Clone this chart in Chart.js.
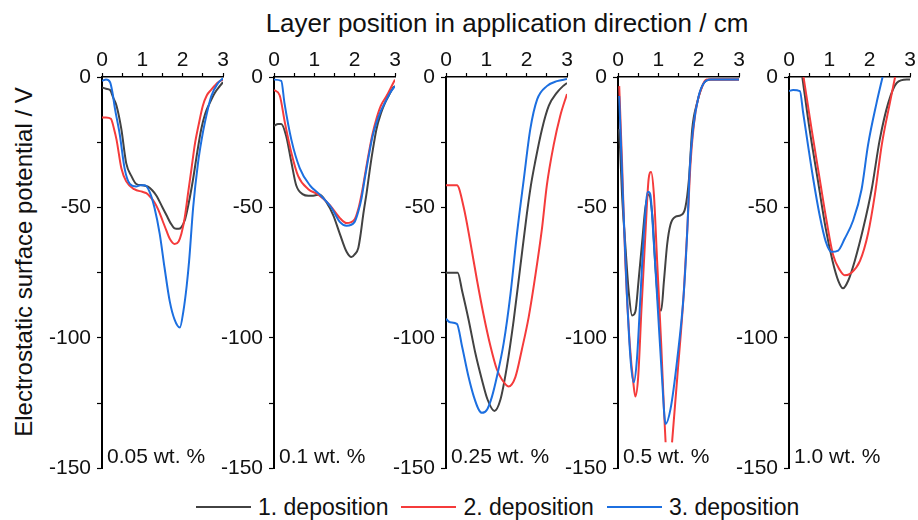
<!DOCTYPE html>
<html>
<head>
<meta charset="utf-8">
<script src="https://cdn.jsdelivr.net/npm/chart.js@4.4.1/dist/chart.umd.min.js"></script>
<style>
  body { margin: 0; background: #fff; font-family: "Liberation Sans", Arial, sans-serif; }
  #wrap { position: relative; width: 918px; height: 520px; overflow: hidden; }
  canvas { position: absolute; top: 30px; }
  #title { position: absolute; left: 207px; width: 600px; top: 8px; text-align: center; font-size: 26px; line-height: 30px; color: #111; }
  #ylabel { position: absolute; left: -176px; top: 247px; width: 400px; height: 30px; line-height: 30px; text-align: center; font-size: 24px; color: #111; transform: rotate(-90deg); }
  #legend { position: absolute; left: 196px; top: 492px; display: flex; font-size: 23px; line-height: 30px; color: #111; }
  .item { display: flex; align-items: center; margin-right: 13px; }
  .swatch { width: 55px; height: 2px; margin-right: 7px; }
</style>
</head>
<body>
<div id="wrap">
  <div id="title">Layer position in application direction / cm</div>
  <div id="ylabel">Electrostatic surface potential / V</div>
  <canvas id="p0" width="188" height="457"></canvas>
  <canvas id="p1" width="188" height="457"></canvas>
  <canvas id="p2" width="188" height="457"></canvas>
  <canvas id="p3" width="188" height="457"></canvas>
  <canvas id="p4" width="188" height="457"></canvas>
  <div id="legend"></div>
</div>
<script>
const panelLabels = ["0.05 wt. %", "0.1 wt. %", "0.25 wt. %", "0.5 wt. %", "1.0 wt. %"];
const seriesNames = ["1. deposition", "2. deposition", "3. deposition"];
const seriesColors = ["#424242", "#f53b3b", "#1c6fe0"];
const panelAxisLeft = [102, 274, 446, 618, 789];

// [position in cm, potential in V]
const dep1_005 = [[0,-4],[0.1,-4.5],[0.2,-5],[0.28,-8],[0.36,-11],[0.48,-20],[0.6,-33],[0.73,-38],[0.85,-41],[1.0,-41.5],[1.14,-42],[1.25,-43.5],[1.35,-45.5],[1.5,-50],[1.6,-53],[1.7,-56],[1.8,-58],[1.9,-58.2],[1.97,-57.5],[2.05,-55],[2.1,-52],[2.18,-46],[2.26,-39],[2.36,-29],[2.46,-20],[2.56,-14],[2.67,-10],[2.8,-6],[2.92,-3.5],[3,-2]];
const dep2_005 = [[0,-15.5],[0.1,-15.5],[0.22,-16],[0.3,-20],[0.36,-24],[0.48,-35],[0.6,-40],[0.8,-43],[1.0,-44],[1.1,-44.5],[1.2,-46],[1.3,-48],[1.4,-51],[1.5,-55],[1.6,-59],[1.68,-62],[1.8,-64],[1.9,-63],[1.97,-60],[2.05,-54],[2.13,-45],[2.22,-35],[2.3,-26],[2.4,-18],[2.5,-11],[2.6,-7],[2.7,-5],[2.88,-2],[3,-1]];
const dep3_005 = [[0,-1.5],[0.1,-1],[0.2,-2],[0.26,-6],[0.32,-12],[0.44,-22],[0.56,-35],[0.69,-41],[0.85,-42],[0.95,-41.5],[1.06,-41.5],[1.18,-44],[1.3,-50],[1.43,-60],[1.55,-73],[1.68,-86],[1.8,-93],[1.93,-96],[2.02,-89.5],[2.1,-80],[2.16,-70.5],[2.26,-50],[2.38,-33],[2.47,-24],[2.55,-17.5],[2.71,-7.3],[2.88,-2.3],[3,-0.5]];

const dep1_01 = [[0,-18.7],[0.1,-18],[0.18,-18],[0.3,-22.5],[0.43,-32.6],[0.55,-41.5],[0.72,-45],[0.85,-45.5],[0.97,-45.5],[1.13,-45],[1.3,-48],[1.47,-53],[1.63,-60],[1.8,-67],[1.92,-69],[2.0,-68],[2.09,-65.5],[2.15,-60],[2.21,-53],[2.3,-44],[2.38,-35],[2.46,-27],[2.54,-20],[2.65,-14],[2.75,-10],[2.85,-7],[2.96,-4],[3,-3.5]];
const dep2_01 = [[0,-5],[0.14,-7],[0.27,-17.5],[0.43,-29],[0.6,-38],[0.85,-43],[1.09,-45],[1.38,-49],[1.63,-54],[1.8,-56],[2.0,-54.5],[2.1,-50],[2.17,-45],[2.25,-38],[2.34,-30],[2.44,-22],[2.54,-16],[2.65,-11],[2.79,-7.3],[2.9,-4],[3,-1]];
const dep3_01 = [[0,-1],[0.18,-1.5],[0.26,-10],[0.43,-24],[0.64,-35],[0.89,-41.5],[1.13,-45],[1.42,-50],[1.63,-55.5],[1.8,-57],[2.0,-55.5],[2.1,-51],[2.17,-46.5],[2.25,-39],[2.34,-31],[2.44,-23],[2.54,-17.5],[2.65,-13],[2.79,-8.6],[2.9,-5.5],[3,-3.5]];

const dep1_025 = [[0,-75],[0.29,-75],[0.4,-82],[0.56,-93],[0.73,-106],[0.89,-116],[1.03,-123.6],[1.2,-128],[1.35,-123.6],[1.51,-111],[1.68,-93],[1.84,-73],[2.0,-53],[2.1,-42],[2.21,-32.6],[2.38,-20],[2.55,-11],[2.75,-6],[2.9,-3.5],[3,-2.3]];
const dep2_025 = [[0,-41.5],[0.27,-41.5],[0.44,-50],[0.6,-63],[0.77,-78],[0.93,-91],[1.1,-103],[1.26,-112],[1.39,-116],[1.55,-118.6],[1.72,-115],[1.88,-104.5],[2.05,-92],[2.21,-76.6],[2.38,-58],[2.5,-41.5],[2.67,-26],[2.83,-15],[3,-6.5]];
const dep3_025 = [[0,-92.7],[0.1,-94],[0.27,-94.6],[0.4,-103.4],[0.56,-115],[0.69,-122.5],[0.81,-127.4],[0.89,-128.7],[1.02,-127.4],[1.14,-122.5],[1.26,-115],[1.43,-102],[1.6,-83],[1.76,-60],[1.93,-39],[2.09,-20],[2.26,-8.6],[2.5,-3.5],[2.75,-1.6],[3,-0.8]];

const dep1_05 = [[0.02,-20],[0.05,-27],[0.1,-45],[0.18,-64],[0.27,-83],[0.35,-91.4],[0.43,-90],[0.51,-78],[0.6,-63],[0.68,-50],[0.76,-45],[0.85,-53],[0.93,-73],[1.01,-88],[1.07,-89.5],[1.14,-78],[1.22,-64],[1.3,-56.6],[1.43,-53.5],[1.55,-53],[1.67,-50],[1.76,-39],[1.84,-20],[1.96,-10],[2.13,-2.3],[2.3,-1],[2.6,-1],[3,-1]];
const dep2_05 = [[0.03,-3.5],[0.1,-32.6],[0.18,-70.5],[0.29,-102],[0.39,-118.6],[0.43,-122.4],[0.5,-115],[0.58,-89.5],[0.68,-60],[0.76,-39],[0.82,-36.4],[0.89,-45],[0.97,-70.5],[1.07,-102],[1.14,-127.4],[1.18,-140],[1.26,null],[1.34,-140],[1.47,-115],[1.63,-83],[1.72,-58],[1.8,-32.6],[1.92,-13.6],[2.09,-3.5],[2.2,-1],[2.6,-1],[3,-1]];
const dep3_05 = [[0.03,-7.3],[0.12,-45],[0.22,-83],[0.31,-108],[0.39,-117],[0.47,-108],[0.56,-83],[0.65,-58],[0.74,-44],[0.8,-45],[0.89,-64],[0.99,-89.5],[1.09,-115],[1.18,-133],[1.3,-127.4],[1.47,-108],[1.63,-83],[1.72,-58],[1.78,-35],[1.86,-20],[2.0,-7.3],[2.13,-2.3],[2.3,-1],[3,-1]];

const dep1_10 = [[0.33,0],[0.51,-20],[0.72,-40],[0.91,-58],[1.08,-70.5],[1.22,-78],[1.34,-81],[1.47,-78],[1.63,-70.5],[1.84,-58],[2.05,-43],[2.25,-24],[2.46,-10],[2.67,-2.3],[2.92,-1],[3,-1]];
const dep2_10 = [[0.36,0],[0.56,-20],[0.76,-39],[0.93,-55],[1.09,-68],[1.26,-74],[1.38,-76],[1.55,-75],[1.76,-70.5],[1.96,-60],[2.13,-45],[2.3,-26],[2.5,-10],[2.63,0]];
const dep3_10 = [[0,-5.4],[0.1,-5],[0.27,-5.4],[0.35,-13.6],[0.47,-26],[0.6,-39],[0.76,-53],[0.91,-63],[1.05,-67],[1.22,-66.5],[1.38,-62],[1.59,-55],[1.8,-43],[1.96,-26],[2.17,-10],[2.32,0]];

const panelSeries = [
    [dep1_005, dep2_005, dep3_005],
    [dep1_01, dep2_01, dep3_01],
    [dep1_025, dep2_025, dep3_025],
    [dep1_05, dep2_05, dep3_05],
    [dep1_10, dep2_10, dep3_10]
];

const xTickLabels = [0, 1, 2, 3];
const yTickLabels = [0, -50, -100, -150];

const FONT = "'Liberation Sans', Arial, sans-serif";

// draws the concentration text in the lower left corner
const panelTextPlugin = {
    id: "panelText",
    afterDraw(chart, args, opts) {
        const { ctx, chartArea } = chart;
        ctx.save();
        ctx.font = "21px " + FONT;
        ctx.fillStyle = "#111";
        ctx.textBaseline = "alphabetic";
        ctx.fillText(opts.text, chartArea.left + 5, chartArea.bottom - 5);
        ctx.restore();
    }
};

function makePanel(i) {
    const canvas = document.getElementById("p" + i);
    canvas.style.left = (panelAxisLeft[i] - 55) + "px";

    const datasets = panelSeries[i].map((points, s) => ({
        label: seriesNames[s],
        data: points.map(p => ({ x: p[0], y: p[1] })),
        borderColor: seriesColors[s],
        borderWidth: 2,
        pointRadius: 0,
        fill: false,
        spanGaps: false,
        cubicInterpolationMode: "monotone",
        order: 3 - s
    }));

    new Chart(canvas, {
        type: "line",
        data: { datasets },
        plugins: [panelTextPlugin],
        options: {
            responsive: false,
            animation: false,
            layout: { padding: { left: 0, right: 12, top: 0, bottom: 14 } },
            plugins: {
                legend: { display: false },
                tooltip: { enabled: false },
                panelText: { text: panelLabels[i] }
            },
            scales: {
                x: {
                    type: "linear",
                    position: "top",
                    min: 0,
                    max: 3,
                    afterFit: scale => { scale.height = 47; },
                    border: { display: true, color: "#000", width: 1.5 },
                    grid: { drawOnChartArea: false, drawTicks: true, tickLength: 4, tickColor: "#000", tickWidth: 1.2 },
                    ticks: {
                        stepSize: 0.5,
                        autoSkip: false,
                        maxRotation: 0,
                        padding: 0,
                        color: "#111",
                        font: { family: FONT, size: 21 },
                        callback: v => xTickLabels.includes(v) ? String(v) : ""
                    }
                },
                y: {
                    type: "linear",
                    min: -150,
                    max: 0,
                    afterFit: scale => { scale.width = 55; },
                    border: { display: true, color: "#000", width: 2 },
                    grid: { drawOnChartArea: false, drawTicks: true, tickLength: 5, tickColor: "#000", tickWidth: 1.2 },
                    ticks: {
                        stepSize: 25,
                        autoSkip: false,
                        padding: 6,
                        color: "#111",
                        font: { family: FONT, size: 21 },
                        callback: v => yTickLabels.includes(v) ? String(v) : ""
                    }
                }
            }
        }
    });
}

for (let i = 0; i < panelSeries.length; i++) {
    makePanel(i);
}

// legend below the panels
const legend = document.getElementById("legend");
seriesNames.forEach((name, s) => {
    const item = document.createElement("div");
    item.className = "item";
    const sw = document.createElement("span");
    sw.className = "swatch";
    sw.style.background = seriesColors[s];
    const txt = document.createElement("span");
    txt.textContent = name;
    item.appendChild(sw);
    item.appendChild(txt);
    legend.appendChild(item);
});
</script>
</body>
</html>
